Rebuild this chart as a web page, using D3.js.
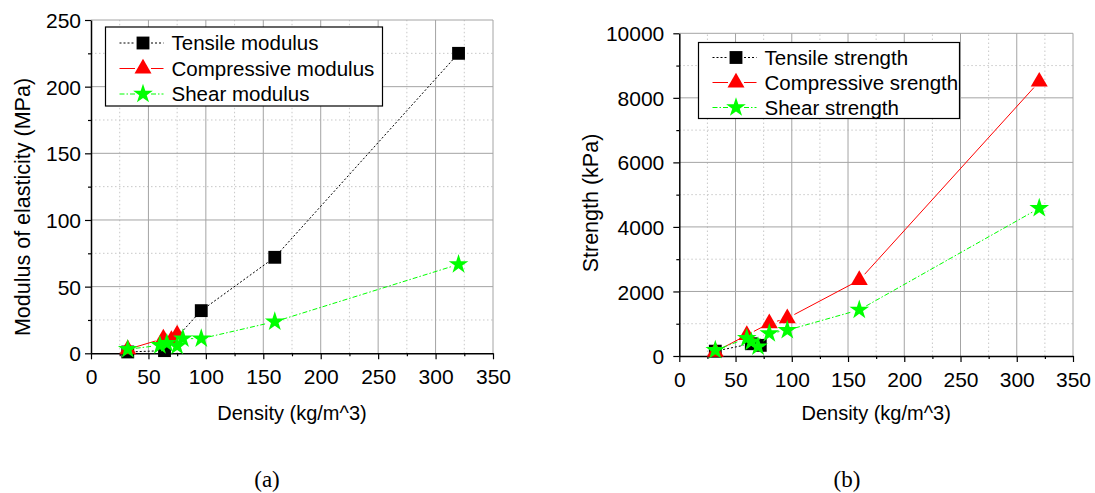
<!DOCTYPE html>
<html>
<head>
<meta charset="utf-8">
<script src="https://cdn.jsdelivr.net/npm/d3@7"></script>
<style>
  body { margin: 0; background: #fff; }
  svg { display: block; }
</style>
</head>
<body>
<svg id="fig" width="1095" height="493"></svg>
<script>
// ---- data, panel (a): modulus of elasticity (MPa) ----
const tensileModDensity = [32, 64, 96, 160, 320];
const tensileModulus = [1, 2, 32, 72, 225];
const compModDensity = [32, 63, 70, 75];
const compModulus = [3, 11, 10, 14];
const shearModDensity = [32, 60, 66, 75, 80, 96, 160, 320];
const shearModulus = [3, 6, 7.5, 5.5, 11, 11, 23.7, 66.7];

// ---- data, panel (b): strength (kPa) ----
const tensileStrDensity = [32, 64, 72];
const tensileStrength = [150, 380, 330];
const compStrDensity = [32, 60, 80, 96, 160, 320];
const compStrength = [130, 650, 1010, 1170, 2350, 8500];
const shearStrDensity = [32, 60, 64, 70, 80, 96, 160, 320];
const shearStrength = [180, 550, 440, 290, 700, 800, 1430, 4580];

// ---- axes ----
const xMajorTicks = [0, 50, 100, 150, 200, 250, 300, 350];
const xMinorTicks = [25, 75, 125, 175, 225, 275, 325];
const modMajorTicks = [0, 50, 100, 150, 200, 250];
const modMinorTicks = [25, 75, 125, 175, 225];
const strMajorTicks = [0, 2000, 4000, 6000, 8000, 10000];
const strMinorTicks = [1000, 3000, 5000, 7000, 9000];

const legendModulus = ['Tensile modulus', 'Compressive modulus', 'Shear modulus'];
const legendStrength = ['Tensile strength', 'Compressive srength', 'Shear strength'];

const SANS = "'Liberation Sans', Arial, sans-serif";
const SERIF = "'Liberation Serif', 'Times New Roman', serif";

const STYLES = [
  { color: '#000', dash: '2,2', symbol: d3.symbolSquare, size: 165 },
  { color: '#ff0000', dash: null, symbol: d3.symbolTriangle, size: 125 },
  { color: '#00ff00', dash: '5,2,1.5,2', symbol: d3.symbolStar, size: 120 },
];

const svg = d3.select('#fig');

drawPanel({
  x0: 91, x1: 493, y0: 353.3, y1: 20, yMax: 250,
  yMajor: modMajorTicks, yMinor: modMinorTicks, yPad: 4,
  series: [
    [tensileModDensity, tensileModulus],
    [compModDensity, compModulus],
    [shearModDensity, shearModulus],
  ],
  yTitle: 'Modulus of elasticity (MPa)', yTitleX: 22, yTitleY: 207,
  legend: legendModulus, legX: 105.5, legY: 27, legW: 277, legH: 79, legRows: [43, 68.5, 94],
  tag: '(a)', tagX: 267,
});

drawPanel({
  x0: 679.3, x1: 1073, y0: 356, y1: 33.3, yMax: 10000,
  yMajor: strMajorTicks, yMinor: strMinorTicks, yPad: 9,
  series: [
    [tensileStrDensity, tensileStrength],
    [compStrDensity, compStrength],
    [shearStrDensity, shearStrength],
  ],
  yTitle: 'Strength (kPa)', yTitleX: 590, yTitleY: 203,
  legend: legendStrength, legX: 698.5, legY: 42.5, legW: 261, legH: 76, legRows: [57.5, 82.5, 107.5],
  tag: '(b)', tagX: 847,
});

function drawPanel(p) {
  const x = d3.scaleLinear().domain([0, 350]).range([p.x0, p.x1]);
  const y = d3.scaleLinear().domain([0, p.yMax]).range([p.y0, p.y1]);
  const g = svg.append('g');

  // grid: minor dotted, major solid
  const grid = g.append('g');
  grid.selectAll('line.xmin').data(xMinorTicks).join('line')
    .attr('x1', (d) => x(d)).attr('x2', (d) => x(d))
    .attr('y1', p.y0).attr('y2', p.y1)
    .attr('stroke', '#c8c8c8').attr('stroke-dasharray', '1.5,2.5');
  grid.selectAll('line.ymin').data(p.yMinor).join('line')
    .attr('x1', p.x0).attr('x2', p.x1)
    .attr('y1', (d) => y(d)).attr('y2', (d) => y(d))
    .attr('stroke', '#c8c8c8').attr('stroke-dasharray', '1.5,2.5');
  grid.selectAll('line.xmaj').data(xMajorTicks.slice(1)).join('line')
    .attr('x1', (d) => x(d)).attr('x2', (d) => x(d))
    .attr('y1', p.y0).attr('y2', p.y1)
    .attr('stroke', '#a4a4a4');
  grid.selectAll('line.ymaj').data(p.yMajor.slice(1)).join('line')
    .attr('x1', p.x0).attr('x2', p.x1)
    .attr('y1', (d) => y(d)).attr('y2', (d) => y(d))
    .attr('stroke', '#a4a4a4');

  // axes
  const xAxis = g.append('g').attr('transform', `translate(0,${p.y0})`)
    .call(d3.axisBottom(x).tickValues(xMajorTicks).tickSize(6).tickSizeOuter(0).tickPadding(10).tickFormat(d3.format('d')));
  const xMinor = g.append('g').attr('transform', `translate(0,${p.y0})`)
    .call(d3.axisBottom(x).tickValues(xMinorTicks).tickSize(3).tickFormat(''));
  const yAxis = g.append('g').attr('transform', `translate(${p.x0},0)`)
    .call(d3.axisLeft(y).tickValues(p.yMajor).tickSize(6).tickSizeOuter(0).tickPadding(p.yPad).tickFormat(d3.format('d')));
  const yMinor = g.append('g').attr('transform', `translate(${p.x0},0)`)
    .call(d3.axisLeft(y).tickValues(p.yMinor).tickSize(3).tickFormat(''));
  [xMinor, yMinor].forEach((a) => a.select('.domain').remove());
  [xAxis, yAxis, xMinor, yMinor].forEach((a) => {
    a.selectAll('.domain').attr('stroke', '#000').attr('stroke-width', 1.5);
    a.selectAll('.tick line').attr('stroke', '#000').attr('stroke-width', 1.2);
    a.selectAll('text').attr('font-family', SANS).attr('font-size', 21).attr('fill', '#000');
  });
  yAxis.selectAll('text').attr('dy', '0.36em');

  // series lines (with gaps at markers) then markers
  p.series.forEach(([xs, ys], i) => {
    const st = STYLES[i];
    const pts = xs.map((d, k) => [x(d), y(ys[k])]);
    const segs = [];
    for (let k = 1; k < pts.length; k++) segs.push(trimSeg(pts[k - 1], pts[k], 8));
    g.append('g').selectAll('line').data(segs.filter(Boolean)).join('line')
      .attr('x1', (s) => s[0][0]).attr('y1', (s) => s[0][1])
      .attr('x2', (s) => s[1][0]).attr('y2', (s) => s[1][1])
      .attr('stroke', st.color).attr('stroke-width', 1)
      .attr('stroke-dasharray', st.dash);
  });
  p.series.forEach(([xs, ys], i) => {
    const st = STYLES[i];
    g.append('g').selectAll('path').data(xs.map((d, k) => [d, ys[k]])).join('path')
      .attr('d', d3.symbol().type(st.symbol).size(st.size))
      .attr('transform', (d) => `translate(${x(d[0])},${y(d[1])})`)
      .attr('fill', st.color);
  });

  // legend
  const leg = g.append('g');
  leg.append('rect')
    .attr('x', p.legX).attr('y', p.legY).attr('width', p.legW).attr('height', p.legH)
    .attr('fill', '#fff').attr('stroke', '#000').attr('stroke-width', 1.2);
  const lx0 = p.legX + 14, lxm = p.legX + 37.5, lx1 = p.legX + 58;
  p.legend.forEach((label, i) => {
    const st = STYLES[i];
    const cy = p.legRows[i];
    [[lx0, lxm - 8], [lxm + 8, lx1]].forEach(([a, b]) => {
      leg.append('line').attr('x1', a).attr('x2', b).attr('y1', cy).attr('y2', cy)
        .attr('stroke', st.color).attr('stroke-width', 1).attr('stroke-dasharray', st.dash);
    });
    leg.append('path')
      .attr('d', d3.symbol().type(st.symbol).size(st.size)())
      .attr('transform', `translate(${lxm},${cy})`)
      .attr('fill', st.color);
    leg.append('text')
      .attr('x', p.legX + 66).attr('y', cy).attr('dy', '0.36em')
      .attr('font-family', SANS).attr('font-size', 20.5).attr('fill', '#000')
      .text(label);
  });

  // titles
  g.append('text')
    .attr('x', (p.x0 + p.x1) / 2).attr('y', 420)
    .attr('text-anchor', 'middle')
    .attr('font-family', SANS).attr('font-size', 20).attr('fill', '#000')
    .text('Density (kg/m^3)');
  g.append('text')
    .attr('transform', `translate(${p.yTitleX},${p.yTitleY}) rotate(-90)`)
    .attr('text-anchor', 'middle').attr('dy', '0.36em')
    .attr('font-family', SANS).attr('font-size', 21.5).attr('fill', '#000')
    .text(p.yTitle);
  g.append('text')
    .attr('x', p.tagX).attr('y', 487)
    .attr('text-anchor', 'middle')
    .attr('font-family', SERIF).attr('font-size', 23).attr('fill', '#000')
    .text(p.tag);
}

function trimSeg(a, b, gap) {
  const dx = b[0] - a[0], dy = b[1] - a[1];
  const len = Math.hypot(dx, dy);
  if (len <= gap * 2 + 1) return null;
  const ux = dx / len, uy = dy / len;
  return [[a[0] + ux * gap, a[1] + uy * gap], [b[0] - ux * gap, b[1] - uy * gap]];
}
</script>
</body>
</html>
